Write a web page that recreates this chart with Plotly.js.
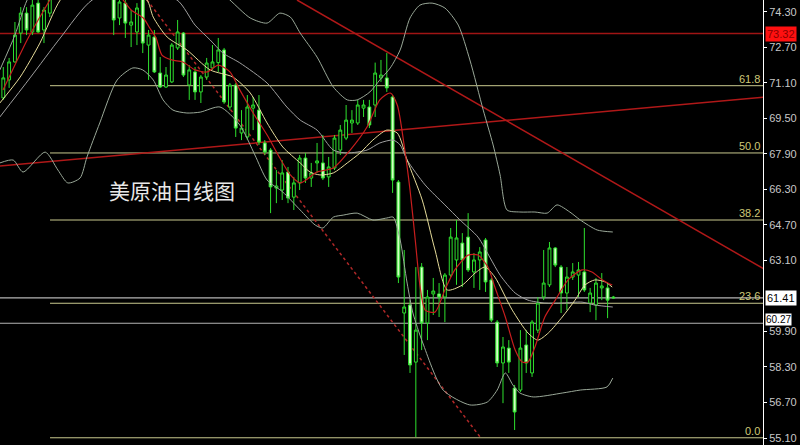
<!DOCTYPE html>
<html>
<head>
<meta charset="utf-8">
<script src="https://cdn.plot.ly/plotly-3.0.1.min.js"></script>
<style>html,body{margin:0;padding:0;background:#000;}#chart{width:800px;height:445px;}</style>
</head>
<body>
<div id="chart"></div>
<script>
// ---- Candles (daily; indices 9-18 are above the visible range) ----
const opens = [70.42,71.23,72.04,73.34,74.24,73.39,74.69,73.48,74.24,75.28,
75.9,76.4,76.1,76.7,76.3,76.0,75.5,75.9,75.4,75.0,
74.02,74.69,73.70,73.39,74.97,72.80,73.16,71.54,70.91,71.14,
72.67,73.34,71.00,71.59,70.69,71.36,71.77,72.01,72.58,70.01,
71.00,68.84,68.66,69.96,69.87,68.39,68.07,66.36,66.27,67.08,
65.95,66.59,67.71,66.81,67.49,67.49,66.86,67.26,68.07,68.61,
69.29,69.29,69.96,70.01,70.10,71.32,71.32,70.46,66.63,60.73,
61.09,58.52,62.80,60.28,61.59,61.59,61.45,62.44,63.12,63.88,
64.15,62.58,63.12,64.02,62.22,60.32,58.48,59.15,57.35,57.26,
59.29,58.03,59.96,61.45,62.00,63.66,62.80,61.63,62.35,62.44,
62.58,61.18,61.09,61.86,61.86,61.45];
const highs = [71.81,72.22,73.84,74.51,74.51,74.95,75.05,74.51,75.73,76.2,
76.8,76.9,77.0,77.1,76.6,76.3,76.1,76.1,75.7,75.2,
74.97,74.9,74.38,74.69,75.19,73.48,73.48,72.26,71.81,72.89,
73.93,73.39,71.90,71.81,71.45,72.22,72.80,73.12,72.67,71.09,
71.09,69.87,70.55,70.46,70.55,68.52,68.16,67.17,67.62,67.31,
66.86,67.85,67.94,67.49,68.39,68.75,67.76,68.75,69.20,70.10,
69.87,70.33,70.33,70.33,72.01,72.13,72.44,70.55,66.72,63.57,
61.31,62.80,62.98,61.77,62.31,62.08,62.53,64.56,64.92,64.33,
65.23,63.43,63.70,64.11,62.31,60.41,59.65,59.51,57.49,59.96,
59.96,60.41,61.45,63.57,63.93,63.70,62.89,62.80,62.98,63.03,
64.56,61.86,62.31,62.53,62.08,61.50];
const lows = [70.33,70.87,72.01,72.89,73.25,73.25,73.34,72.89,74.06,75.0,
75.6,75.8,75.9,76.0,75.6,75.2,75.2,75.1,74.9,73.25,
73.70,73.12,72.71,72.80,72.44,71.23,71.54,70.87,70.87,71.09,
72.58,71.36,70.33,70.33,70.19,71.23,71.68,71.59,70.15,69.87,
68.66,68.52,68.52,68.97,68.30,67.85,65.23,65.68,65.82,65.68,
65.37,66.27,66.59,66.41,67.04,66.72,66.41,67.17,67.85,68.52,
68.84,69.20,69.56,69.06,69.56,71.14,70.69,66.14,62.08,58.84,
58.03,55.14,59.06,59.51,60.64,60.55,60.32,62.35,62.00,61.90,
62.58,61.86,61.77,61.68,60.32,58.30,56.67,58.03,55.46,57.17,
58.03,57.85,59.83,61.31,61.90,62.80,60.73,60.86,62.22,61.45,
61.68,60.77,60.41,61.31,60.50,61.38];
const closes = [71.32,72.04,73.25,74.24,73.48,74.60,73.39,74.38,75.28,75.9,
76.4,76.1,76.7,76.3,76.0,75.5,75.9,75.4,75.0,73.93,
74.74,73.79,73.84,74.47,72.89,73.25,71.59,70.91,71.45,72.80,
73.39,71.45,71.68,70.69,71.36,71.99,72.04,72.58,70.24,71.00,
69.06,69.06,70.01,70.10,68.43,67.98,66.41,66.45,67.04,65.91,
66.59,67.71,66.81,67.04,67.58,66.81,67.31,68.61,68.97,69.42,
69.42,70.10,70.10,69.20,71.54,71.45,70.87,66.72,62.35,61.00,
58.39,59.96,60.28,61.45,61.72,61.45,62.44,64.15,64.11,63.12,
62.67,63.12,63.48,62.13,60.41,58.48,59.20,58.52,56.27,59.15,
58.48,60.32,61.18,62.08,63.66,62.89,61.63,62.35,62.58,62.67,
61.77,61.63,62.08,61.95,61.31,61.41];

// ---- Indicator lines (bar index, price) ----
const ma5X = [-0.05,2.0,4.1,6.0,8.0,10.6,14.0,17.0,20.1,22.0,24.1,25.2,26.3,27.3,29.0,30.9,33.0,35.1,37.0,39.0,40.7,43.0,45.4,47.6,49.4,51.1,54.0,56.8,59.7,62.6,64.8,66.6,67.8,69.1,70.0,70.9,71.7,72.6,74.3,76.0,77.7,80.0,81.7,83.4,84.6,86.4,88.1,89.3,90.3,91.5,93.2,95.0,97.2,99.6,101.3,103.1,104.8];
const ma5Y = [70.78,71.90,73.03,73.93,74.83,76.2,76.3,75.8,75.0,74.38,74.02,73.57,73.12,72.35,72.13,72.04,71.68,71.59,71.90,71.59,70.78,69.74,68.75,67.71,66.95,66.59,67.08,67.26,68.07,69.11,70.33,70.64,70.10,68.07,66.27,64.02,61.99,60.86,60.77,61.77,62.67,63.34,63.34,62.80,61.90,60.55,59.06,58.52,58.52,59.20,60.55,61.31,62.22,62.67,62.58,62.22,61.99];
const ma10X = [-0.6,2.9,6.3,9.8,14.0,20.0,24.7,25.8,28.2,31.6,35.6,39.5,42.5,45.4,48.1,51.1,52.8,54.5,56.8,59.2,61.4,63.6,66.0,67.8,69.5,72.1,74.3,76.4,79.0,81.2,82.9,84.6,87.6,90.3,92.0,93.8,96.2,98.4,100.1,101.8,103.6,104.8];
const ma10Y = [70.19,71.36,72.89,74.83,75.9,75.4,74.83,74.06,73.16,72.58,71.68,71.36,70.64,69.29,68.21,67.49,67.08,66.95,67.04,67.49,67.94,68.52,68.97,68.84,67.62,65.82,63.57,61.77,61.99,62.53,62.80,62.35,60.86,59.83,59.51,59.83,60.55,61.31,61.99,62.22,62.13,61.90];
const midX = [-0.6,4.6,9.8,15.3,22.0,29.9,33.0,35.6,37.8,40.7,45.4,48.8,51.1,54.0,56.8,59.2,62.6,64.8,67.1,68.3,69.5,72.6,76.0,78.6,81.7,83.8,85.5,88.1,90.3,93.2,96.2,99.6,101.8,104.9];
const midY = [69.56,71.32,73.12,74.83,75.3,74.83,73.70,73.03,72.44,72.00,71.09,70.01,69.42,68.97,68.07,67.94,68.07,68.39,68.52,68.30,67.62,66.50,65.60,64.92,64.15,63.21,62.44,61.63,61.31,61.18,61.18,61.22,61.09,61.00];
const upX = [-0.6,2.0,4.1,8.0,20.0,30.0,36.0,39.0,42.5,45.4,47.6,49.4,51.1,54.0,56.8,59.2,60.9,63.1,64.8,66.6,68.3,70.0,71.7,73.8,76.0,78.3,80.3,82.6,84.3,85.5,86.7,88.9,91.5,93.6,95.3,97.5,99.3,102.2,104.9];
const upY = [71.68,73.25,74.83,76.5,77.5,76.8,75.5,74.83,74.02,73.79,74.24,74.06,73.34,72.26,70.91,70.33,70.33,70.69,71.23,71.77,72.58,74.02,74.60,74.69,74.47,73.70,72.13,69.87,68.30,66.95,65.37,65.28,65.28,65.23,65.60,65.28,64.92,64.47,64.38];
const lowX = [-0.6,1.7,3.4,7.2,9.4,11.1,13.2,14.4,16.6,19.6,22.3,24.0,25.8,27.5,29.2,31.6,33.9,37.3,40.7,43.3,45.4,48.1,51.1,53.7,55.0,56.8,58.5,60.9,63.6,66.0,67.1,68.3,69.5,70.5,72.2,75.7,80.3,83.3,85.0,86.4,87.7,88.9,91.2,96.3,99.3,103.9,104.9];
const lowY = [67.49,67.62,67.08,67.98,67.17,66.59,66.81,67.76,69.29,71.23,71.77,71.68,71.23,70.33,69.87,69.74,69.78,70.01,69.20,67.85,66.72,66.18,65.37,64.69,64.56,65.05,65.14,65.23,64.92,65.01,65.05,64.02,62.08,60.73,59.38,57.26,56.59,56.72,57.26,58.03,57.49,57.13,56.95,57.13,57.26,57.40,57.80];

// ---- Levels & labels ----
const fibLevels = [55.11, 61.17, 64.92, 67.94, 70.97];
const fibLabels = ['0.0', '23.6', '38.2', '50.0', '61.8'];
const resistance = 73.32;
const lastPrice = 61.41;
const support = 60.27;
const tickVals = [74.3,72.7,71.1,69.5,67.9,66.3,64.7,63.1,59.9,58.3,56.7,55.1];
const tickText = ['74.30','72.70','71.10','69.50','67.90','66.30','64.70','63.10','59.90','58.30','56.70','55.10'];
// trend lines: [x0, y0, x1, y1] in (bar index, price)
const trendDown = [50.55, 74.83, 131, 62.70];
const trendUp = [-0.6, 67.35, 131, 70.46];
const trendDot = [24.73, 74.83, 82.05, 55.15];
const titleText = '美原油日线图';

const idx = opens.map((_, i) => i);
const X0 = -0.57, X1 = 130.75;

const candle = {
  type: 'candlestick', x: idx, open: opens, high: highs, low: lows, close: closes,
  increasing: {line: {color: '#2ee02e', width: 1}, fillcolor: '#000000'},
  decreasing: {line: {color: '#2ee02e', width: 1}, fillcolor: '#d4ffc4'},
  whiskerwidth: 0, hoverinfo: 'skip'
};
function ln(x, y, color, w) {
  return {type: 'scatter', mode: 'lines', x: x, y: y, line: {color: color, width: w || 1, shape: 'spline', smoothing: 0.7}, hoverinfo: 'skip'};
}
const traces = [
  ln(upX, upY, '#9aa898'),
  ln(lowX, lowY, '#9aa898'),
  ln(midX, midY, '#a0a0a0'),
  ln(ma10X, ma10Y, '#e6dc9a'),
  ln(ma5X, ma5Y, '#c81e1e', 1.2),
  candle
];

const shapes = [];
fibLevels.forEach(v => shapes.push({type: 'line', xref: 'x', yref: 'y', x0: 8.04, x1: X1, y0: v, y1: v, line: {color: '#c9c98e', width: 1}, layer: 'below'}));
shapes.push({type: 'line', xref: 'paper', yref: 'y', x0: 0, x1: 1, y0: resistance, y1: resistance, line: {color: '#a01414', width: 1.5}, layer: 'below'});
[lastPrice, support].forEach(v => shapes.push({type: 'line', xref: 'paper', yref: 'y', x0: 0, x1: 1, y0: v, y1: v, line: {color: '#b4b4b4', width: 1.2}, layer: 'below'}));
[trendDown, trendUp].forEach(t => shapes.push({type: 'line', xref: 'x', yref: 'y', x0: t[0], y0: t[1], x1: t[2], y1: t[3], line: {color: '#b01818', width: 1.5}, layer: 'below'}));
shapes.push({type: 'line', xref: 'x', yref: 'y', x0: trendDot[0], y0: trendDot[1], x1: trendDot[2], y1: trendDot[3], line: {color: '#b02828', width: 1.5, dash: 'dot'}, layer: 'below'});

const annotations = [];
fibLevels.forEach((v, i) => annotations.push({xref: 'paper', yref: 'y', x: 1, y: v, xanchor: 'right', yanchor: 'bottom', xshift: -1, yshift: -1, text: fibLabels[i], showarrow: false, font: {family: 'Liberation Sans, Arial', size: 11, color: '#cfc878'}}));
annotations.push({xref: 'paper', yref: 'y', x: 1, y: resistance, xanchor: 'left', yanchor: 'middle', xshift: 2, text: resistance.toFixed(2), showarrow: false, bgcolor: '#ff1010', borderpad: 1, font: {family: 'Liberation Sans, Arial', size: 11, color: '#8a0000'}});
annotations.push({xref: 'paper', yref: 'y', x: 1, y: lastPrice, xanchor: 'left', yanchor: 'middle', xshift: 2, text: lastPrice.toFixed(2), showarrow: false, bgcolor: '#ffffff', borderpad: 1, font: {family: 'Liberation Sans, Arial', size: 11, color: '#000000'}});
annotations.push({xref: 'paper', yref: 'y', x: 1, y: support, xanchor: 'left', yanchor: 'middle', xshift: 2, yshift: 4, text: support.toFixed(2), showarrow: false, bgcolor: '#ffffff', borderpad: 0, font: {family: 'Liberation Sans, Arial', size: 10, color: '#000000'}});
annotations.push({xref: 'paper', yref: 'paper', x: 172 / 763, y: 1 - 190 / 445, xanchor: 'center', yanchor: 'middle', text: titleText, showarrow: false, font: {family: 'Noto Sans CJK SC', size: 21, color: '#e8e8e8'}});

const layout = {
  width: 800, height: 445,
  paper_bgcolor: '#000', plot_bgcolor: '#000',
  margin: {l: 0, r: 37, t: 0, b: 0},
  showlegend: false, hovermode: false,
  xaxis: {type: 'linear', range: [X0, X1], visible: false, showgrid: false, zeroline: false, rangeslider: {visible: false}, fixedrange: true},
  yaxis: {side: 'right', range: [54.785, 74.83], tickvals: tickVals, ticktext: tickText, showgrid: false, zeroline: false,
    showline: true, linecolor: '#ffffff', linewidth: 1, ticks: 'outside', ticklen: 3, tickcolor: '#ffffff',
    tickfont: {family: 'Liberation Sans, Arial', size: 11, color: '#c8c8c8'}, fixedrange: true},
  shapes: shapes, annotations: annotations
};
Plotly.newPlot('chart', traces, layout, {staticPlot: true, displayModeBar: false});
</script>
</body>
</html>
